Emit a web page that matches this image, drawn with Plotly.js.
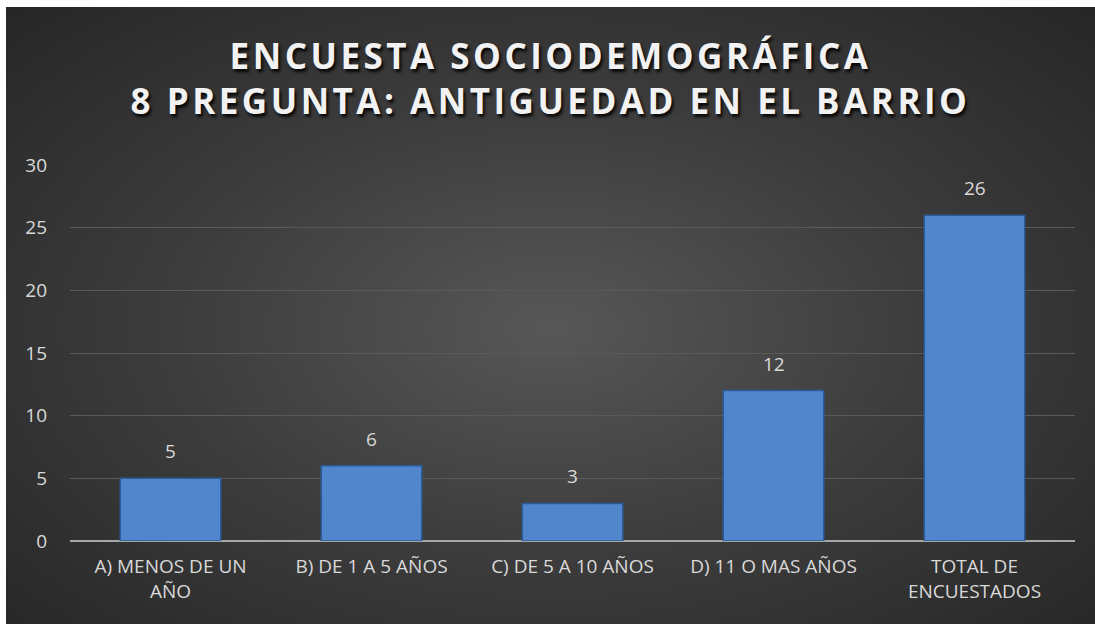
<!DOCTYPE html>
<html>
<head>
<meta charset="utf-8">
<script src="https://cdn.plot.ly/plotly-3.0.1.min.js"></script>
<style>
  html, body { margin: 0; padding: 0; background: #ffffff; width: 1095px; height: 624px; overflow: hidden; }
  #chart {
    position: absolute; left: 6px; top: 7px; width: 1089px; height: 617px;
    background: radial-gradient(ellipse farthest-corner at 50% 52%, #575757 0%, #3c3c3c 50%, #262626 100%);
  }
  #chart .gtitle { letter-spacing: 3.5px; }
</style>
</head>
<body>
<div id="chart"></div>
<script>
const categories = ["A) MENOS DE UN<br>AÑO", "B) DE 1 A 5 AÑOS", "C) DE 5 A 10 AÑOS", "D) 11 O MAS AÑOS", "TOTAL DE<br>ENCUESTADOS"];
const values = [5, 6, 3, 12, 26];
const yTicks = [0, 5, 10, 15, 20, 25, 30];
const titleText = "ENCUESTA SOCIODEMOGRÁFICA<br>8 PREGUNTA: ANTIGUEDAD EN EL BARRIO";

const labelColor = "#d9d9d9";
const fontFam = "Open Sans, DejaVu Sans, sans-serif";

const trace = {
  type: "bar",
  x: categories,
  y: values,
  marker: { color: "#5186cd", line: { color: "#2c5a96", width: 1.5 } },
  hoverinfo: "x+y"
};

const annotations = categories.map((c, i) => ({
  x: c, y: values[i], xref: "x", yref: "y",
  text: String(values[i]), showarrow: false,
  yanchor: "bottom", yshift: 12,
  font: { family: fontFam, size: 19, color: labelColor }
}));

const layout = {
  width: 1089, height: 617,
  paper_bgcolor: "rgba(0,0,0,0)",
  plot_bgcolor: "rgba(0,0,0,0)",
  margin: { l: 64, r: 20, t: 158, b: 83 },
  title: {
    text: titleText,
    x: 0.5, xref: "container", xanchor: "center",
    y: 0.9, yref: "container", yanchor: "top",
    font: { family: fontFam, size: 35, weight: 700, color: "#f2f2f2", shadow: "2px 3px 3px rgba(0,0,0,0.85)" }
  },
  bargap: 0.5,
  showlegend: false,
  xaxis: {
    type: "category",
    tickfont: { family: fontFam, size: 19, color: labelColor },
    showgrid: false, showline: false, ticks: "",
    zeroline: false, ticklabelstandoff: 12
  },
  yaxis: {
    range: [0, 30], tickvals: yTicks, ticktext: yTicks.map(String),
    tickfont: { family: fontFam, size: 19, color: labelColor },
    showgrid: true, gridcolor: "#5a5a5a", gridwidth: 1,
    zeroline: true, zerolinecolor: "#a6a6a6", zerolinewidth: 2,
    ticks: "", ticklabelstandoff: 22, showline: false
  },
  annotations: annotations
};

Plotly.newPlot("chart", [trace], layout, { displayModeBar: false, staticPlot: true });
</script>
</body>
</html>
